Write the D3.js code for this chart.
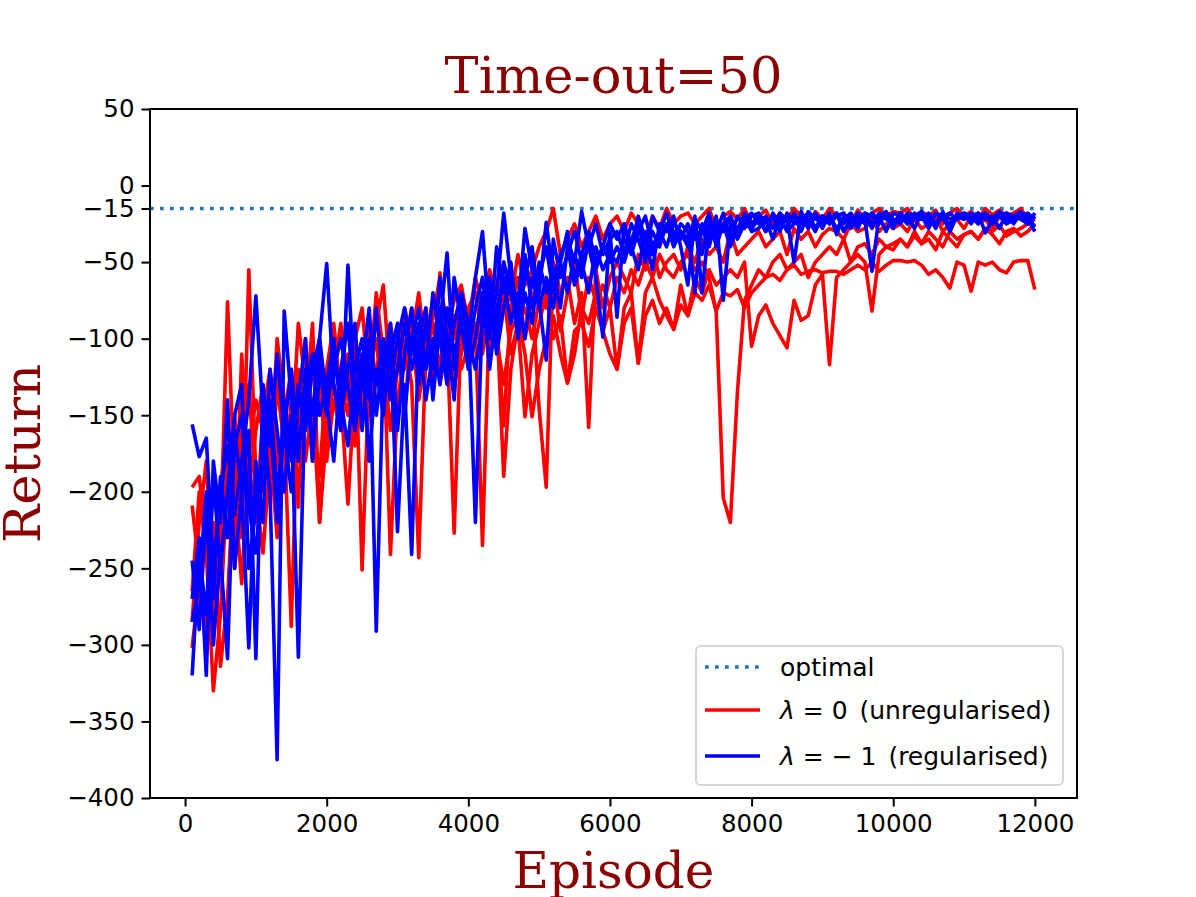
<!DOCTYPE html>
<html><head><meta charset="utf-8">
<script src="https://cdn.jsdelivr.net/npm/d3@7"></script>
<style>body{margin:0;background:#fff}svg{display:block}</style>
</head><body>
<svg id="chart" width="1196" height="897"></svg>
<script>
// ---- data ----
const episodes = d3.range(100, 12001, 100);
const xTicks = [0, 2000, 4000, 6000, 8000, 10000, 12000];
const yTicks = [50, 0, -15, -50, -100, -150, -200, -250, -300, -350, -400];
const optimal = -15;
const titleText = "Time-out=50";
const xLabel = "Episode";
const yLabel = "Return";

const red1 = [-197,-190,-230,-285,-250,-180,-150,-210,-170,-140,
-160,-200,-130,-170,-150,-120,-180,-140,-220,-160,
-130,-150,-110,-170,-140,-120,-100,-150,-130,-110,
-120,-95,-140,-110,-90,-130,-100,-85,-120,-105,
-90,-110,-80,-100,-130,-95,-85,-110,-151,-120,
-100,-85,-110,-129,-95,-90,-105,-80,-95,-110,
-120,-90,-80,-116,-85,-75,-90,-80,-94,-78,
-85,-70,-75,-65,-82,-70,-72,-68,-80,-70,
-65,-60,-58,-62,-55,-52,-58,-56,-55,-57,
-56,-56,-58,-55,-52,-55,-50,-56,-52,-49,
-49,-50,-49,-52,-58,-55,-60,-67,-50,-52,
-69,-50,-52,-50,-55,-57,-50,-49,-49,-68];
const red2 = [-209,-250,-300,-270,-230,-76,-200,-260,-180,-220,
-150,-120,-180,-200,-140,-170,-110,-150,-130,-180,
-140,-160,-120,-100,-150,-90,-130,-110,-160,-120,
-100,-130,-243,-110,-90,-120,-80,-100,-70,-110,
-95,-235,-80,-100,-70,-110,-90,-80,-100,-75,
-80,-60,-95,-70,-50,-85,-60,-75,-65,-80,
-60,-70,-55,-65,-50,-60,-45,-55,-60,-50,
-45,-55,-50,-60,-82,-204,-220,-135,-75,-65,
-55,-60,-50,-45,-55,-50,-45,-60,-50,-45,
-40,-45,-35,-50,-40,-38,-45,-35,-40,-42,
-35,-40,-30,-38,-35,-42,-30,-35,-40,-32,
-30,-35,-28,-32,-38,-30,-28,-33,-30,-25];
const red3 = [-265,-200,-240,-330,-280,-190,-250,-160,-130,-200,
-240,-180,-120,-160,-288,-130,-150,-90,-220,-140,
-110,-130,-150,-100,-251,-120,-90,-65,-130,-100,
-150,-90,-110,-80,-130,-57,-100,-227,-90,-80,
-70,-100,-60,-90,-157,-80,-60,-100,-70,-146,
-197,-50,-70,-60,-90,-70,-158,-55,-80,-60,
-50,-60,-70,-45,-55,-40,-60,-50,-45,-55,
-40,-50,-35,-45,-40,-50,-30,-45,-40,-35,
-30,-40,-35,-30,-45,-28,-35,-30,-40,-32,
-28,-30,-35,-25,-30,-28,-22,-30,-25,-28,
-25,-30,-22,-28,-25,-20,-30,-25,-22,-28,
-20,-25,-22,-28,-20,-25,-22,-18,-24,-20];
const red4 = [-302,-260,-290,-220,-314,-270,-180,-230,-55,-190,
-200,-170,-230,-150,-120,-210,-100,-160,-190,-120,
-90,-140,-208,-130,-110,-150,-120,-100,-241,-140,
-110,-80,-120,-100,-75,-100,-90,-130,-110,-85,
-100,-70,-110,-85,-190,-120,-90,-151,-110,-90,
-70,-100,-85,-129,-110,-80,-90,-70,-95,-80,
-120,-80,-70,-116,-70,-60,-75,-85,-94,-65,
-85,-60,-70,-55,-65,-60,-55,-60,-50,-105,
-85,-78,-90,-98,-106,-75,-88,-85,-65,-58,
-117,-60,-55,-50,-45,-50,-82,-45,-40,-38,
-35,-40,-33,-38,-30,-35,-40,-30,-35,-32,
-30,-35,-28,-30,-26,-33,-30,-28,-25,-22];
const red5 = [-285,-220,-180,-260,-200,-150,-240,-110,-200,-160,
-130,-190,-100,-140,-170,-90,-130,-180,-100,-150,
-120,-90,-140,-100,-80,-130,-70,-110,-90,-120,
-80,-100,-70,-110,-85,-60,-95,-75,-65,-90,
-60,-80,-55,-70,-50,-75,-45,-65,-55,-40,
-30,-15,-45,-35,-25,-40,-30,-20,-35,-25,
-20,-30,-18,-25,-35,-20,-28,-15,-25,-20,
-18,-25,-20,-15,-28,-20,-17,-22,-15,-25,
-20,-16,-25,-18,-22,-15,-20,-28,-17,-22,
-15,-20,-18,-25,-16,-22,-18,-15,-20,-17,
-18,-15,-22,-17,-20,-16,-25,-18,-15,-20,
-17,-22,-15,-19,-16,-20,-18,-15,-22,-20];

const blue1 = [-156,-177,-165,-250,-200,-170,-215,-180,-140,-72,
-150,-200,-375,-82,-140,-180,-120,-150,-100,-51,
-130,-160,-52,-140,-110,-180,-120,-150,-100,-226,
-130,-241,-100,-80,-140,-90,-44,-120,-80,-100,
-60,-30,-90,-70,-18,-60,-80,-28,-55,-70,
-24,-60,-45,-35,-50,-17,-40,-60,-99,-30,
-86,-25,-40,-20,-35,-55,-25,-30,-20,-40,
-65,-22,-30,-18,-40,-25,-20,-30,-18,-25,
-20,-30,-18,-25,-22,-50,-17,-25,-20,-28,
-18,-32,-20,-25,-18,-22,-56,-20,-17,-25,
-18,-22,-20,-17,-25,-18,-20,-30,-18,-22,
-20,-18,-31,-22,-17,-20,-25,-18,-22,-30];
const blue2 = [-245,-290,-210,-300,-240,-309,-160,-200,-302,-180,
-220,-120,-160,-200,-150,-308,-130,-170,-110,-140,
-180,-120,-90,-150,-130,-100,-291,-120,-90,-160,
-110,-80,-130,-90,-120,-60,-100,-140,-70,-90,
-220,-80,-60,-100,-50,-70,-90,-45,-80,-60,
-40,-70,-50,-30,-60,-45,-30,-50,-40,-25,
-35,-25,-45,-30,-20,-40,-30,-18,-35,-25,
-30,-70,-25,-35,-20,-75,-25,-30,-22,-18,
-25,-20,-28,-18,-24,-20,-30,-17,-22,-20,
-25,-20,-18,-28,-22,-18,-25,-20,-30,-18,
-20,-25,-18,-22,-20,-28,-17,-30,-20,-22,
-18,-22,-20,-25,-18,-22,-20,-17,-25,-20];
const blue3 = [-270,-230,-320,-180,-220,-140,-250,-200,-160,-309,
-130,-170,-110,-160,-200,-140,-100,-180,-120,-150,
-110,-140,-170,-120,-100,-140,-80,-130,-110,-90,
-150,-100,-80,-120,-70,-100,-130,-60,-90,-110,
-80,-60,-100,-40,-70,-50,-90,-60,-40,-75,
-114,-35,-60,-45,-30,-50,-40,-25,-45,-35,
-30,-45,-25,-35,-50,-20,-30,-40,-25,-30,
-40,-20,-70,-25,-30,-18,-35,-20,-28,-20,
-18,-25,-20,-30,-18,-25,-22,-18,-28,-20,
-22,-18,-25,-20,-28,-18,-20,-25,-18,-22,
-25,-18,-20,-22,-18,-25,-20,-18,-22,-20,
-22,-20,-18,-25,-20,-18,-22,-20,-18,-22];
const blue4 = [-285,-260,-200,-270,-190,-230,-170,-150,-210,-240,
-180,-140,-200,-160,-120,-170,-140,-110,-150,-130,
-100,-150,-120,-90,-160,-110,-130,-100,-140,-120,
-90,-120,-100,-140,-110,-80,-120,-90,-70,-100,
-120,-90,-70,-110,-80,-60,-100,-70,-90,-50,
-70,-55,-80,-40,-65,-50,-70,-40,-55,-45,
-50,-35,-40,-55,-30,-45,-35,-25,-40,-30,
-35,-30,-45,-22,-35,-25,-40,-28,-20,-30,
-28,-22,-35,-20,-30,-25,-20,-28,-18,-25,
-20,-28,-22,-18,-25,-20,-28,-18,-22,-25,
-22,-20,-28,-18,-22,-25,-18,-22,-20,-18,
-25,-18,-22,-20,-28,-18,-20,-22,-25,-18];
const blue5 = [-320,-240,-280,-190,-250,-200,-150,-130,-250,-210,
-170,-150,-220,-140,-180,-130,-160,-120,-100,-140,
-120,-100,-130,-160,-120,-80,-150,-110,-130,-100,
-80,-110,-90,-120,-100,-130,-80,-110,-90,-120,
-100,-70,-120,-80,-60,-90,-70,-100,-60,-80,
-60,-80,-50,-70,-45,-60,-35,-55,-40,-50,
-40,-50,-35,-25,-45,-30,-40,-25,-30,-35,
-25,-35,-28,-40,-22,-30,-20,-35,-25,-28,
-22,-30,-20,-25,-28,-18,-25,-22,-30,-20,
-25,-18,-30,-22,-20,-25,-18,-22,-20,-28,
-18,-25,-22,-20,-28,-18,-22,-25,-20,-18,
-20,-25,-18,-22,-20,-25,-22,-18,-20,-27];

const redRuns = [red1, red2, red3, red4, red5];
const blueRuns = [blue1, blue2, blue3, blue4, blue5];
const legendLabels = ["optimal", "λ = 0 (unregularised)", "λ = − 1 (regularised)"];

// ---- layout ----
const svg = d3.select("#chart");
const L = 150, R = 1077, T = 109, B = 798;
const x = d3.scaleLinear().domain([-495, 12595]).range([L, R]);
const y = d3.scaleLinear().domain([-400, 50]).range([B, T]);
const sans = "'DejaVu Sans', sans-serif";
const serif = "'DejaVu Serif', serif";
const dark = "#8b0000";

const defs = svg.append("defs");
defs.append("clipPath").attr("id", "clip").append("rect")
  .attr("x", L).attr("y", T).attr("width", R - L).attr("height", B - T);

const plot = svg.append("g").attr("clip-path", "url(#clip)");
plot.append("line").attr("x1", L).attr("x2", R).attr("y1", y(optimal)).attr("y2", y(optimal))
  .attr("stroke", "#1f77b4").attr("stroke-width", 3.7).attr("stroke-dasharray", "3.7,6.3");

const line = d3.line().x((d, i) => x(episodes[i])).y(d => y(d));
redRuns.forEach(r => plot.append("path").datum(r).attr("d", line)
  .attr("fill", "none").attr("stroke", "#ff0000").attr("stroke-width", 3.6).attr("stroke-linejoin", "round"));
blueRuns.forEach(r => plot.append("path").datum(r).attr("d", line)
  .attr("fill", "none").attr("stroke", "#0000ff").attr("stroke-width", 3.6).attr("stroke-linejoin", "round"));

// axes
const xAxis = svg.append("g").attr("transform", `translate(0,${B})`)
  .call(d3.axisBottom(x).tickValues(xTicks).tickFormat(d3.format("d")).tickSize(8.5).tickPadding(8));
const yAxis = svg.append("g").attr("transform", `translate(${L},0)`)
  .call(d3.axisLeft(y).tickValues(yTicks).tickFormat(d => d < 0 ? "\u2212" + Math.abs(d) : d).tickSize(8.5).tickPadding(7));
[xAxis, yAxis].forEach(a => {
  a.select(".domain").remove();
  a.selectAll(".tick line").attr("stroke", "#000").attr("stroke-width", 2);
  a.selectAll(".tick text").attr("font-family", sans).attr("font-size", 24.5).attr("fill", "#000");
});
xAxis.selectAll(".tick text").attr("dy", "0.71em");
svg.append("rect").attr("x", L).attr("y", T).attr("width", R - L).attr("height", B - T)
  .attr("fill", "none").attr("stroke", "#000").attr("stroke-width", 2);

// titles
svg.append("text").attr("x", (L + R) / 2).attr("y", 93).attr("text-anchor", "middle")
  .attr("font-family", serif).attr("font-size", 51).attr("fill", dark).text(titleText);
svg.append("text").attr("x", (L + R) / 2).attr("y", 888).attr("text-anchor", "middle")
  .attr("font-family", serif).attr("font-size", 50).attr("fill", dark).text(xLabel);
svg.append("text").attr("transform", `translate(40,${(T + B) / 2}) rotate(-90)`).attr("text-anchor", "middle")
  .attr("font-family", serif).attr("font-size", 51).attr("fill", dark).text(yLabel);

// legend
const lg = svg.append("g");
lg.append("rect").attr("x", 696).attr("y", 646).attr("width", 367).attr("height", 139).attr("rx", 5)
  .attr("fill", "#fff").attr("fill-opacity", 0.8).attr("stroke", "#d6d6d6").attr("stroke-width", 2);
const rows = [
  {yy: 667, color: "#1f77b4", dash: "3.7,6.3"},
  {yy: 710, color: "#ff0000", dash: null},
  {yy: 756, color: "#0000ff", dash: null}
];
rows.forEach((r, i) => {
  const ln = lg.append("line").attr("x1", 705).attr("x2", 760).attr("y1", r.yy).attr("y2", r.yy)
    .attr("stroke", r.color).attr("stroke-width", 3.7);
  if (r.dash) ln.attr("stroke-dasharray", r.dash);
  const t = lg.append("text").attr("x", 780).attr("y", r.yy + 8.5).attr("xml:space", "preserve")
    .attr("font-family", sans).attr("font-size", 25).attr("fill", "#000");
  const lab = legendLabels[i];
  if (lab.startsWith("λ")) {
    const k = lab.indexOf("(");
    t.append("tspan").attr("font-style", "italic").text("λ");
    t.append("tspan").text(lab.slice(1, k));
    t.append("tspan").attr("dx", 4).text(lab.slice(k));
  } else t.text(lab);
});
</script>
</body></html>
